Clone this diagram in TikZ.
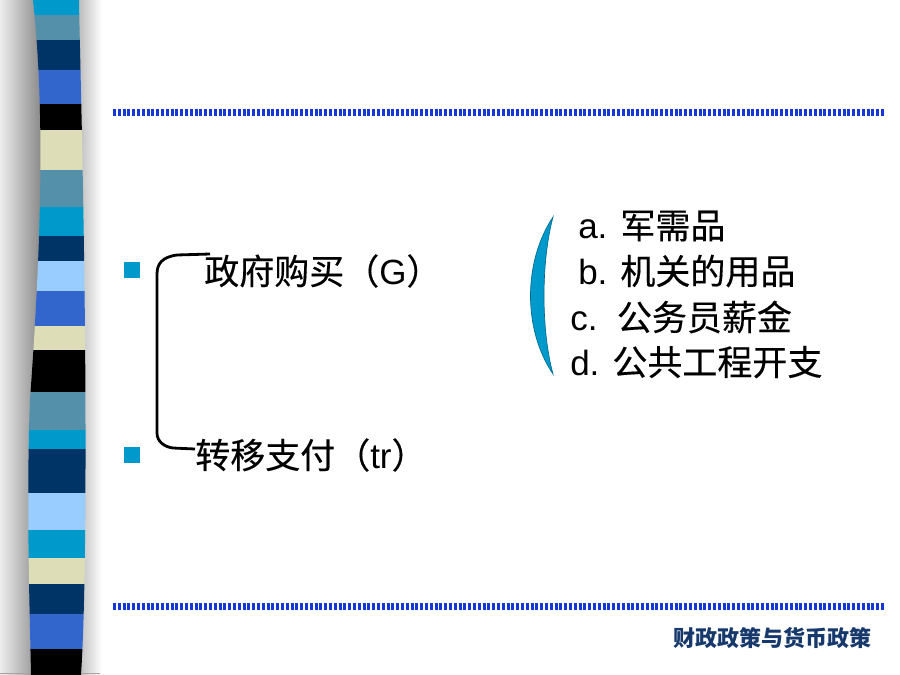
\documentclass[tikz,border=0pt]{standalone}
\usepackage{fontspec}
\setmainfont{Liberation Sans}
\newfontfamily\cjk[FakeBold=0.35]{Noto Sans CJK SC}
\newfontfamily\cjktitle{Noto Sans CJK SC}
\definecolor{barcyan}{RGB}{0,153,204}
\definecolor{barsteel}{RGB}{85,144,170}
\definecolor{barnavy}{RGB}{0,51,102}
\definecolor{barroyal}{RGB}{51,102,204}
\definecolor{barbeige}{RGB}{221,221,184}
\definecolor{barlight}{RGB}{153,204,255}
\definecolor{dotblue}{RGB}{20,55,215}
\definecolor{titleblue}{RGB}{22,56,107}
\begin{document}
\begin{tikzpicture}[x=0.75pt,y=-0.75pt,
  item/.style={anchor=west,inner sep=0pt,font=\fontsize{26.25}{30}\selectfont},
  bullet/.style={fill=barcyan,minimum size=11.5pt,inner sep=0pt},
  dotline/.style={dotblue,line width=5.25pt,dash pattern=on 2.25pt off 1.35pt}]
  \useasboundingbox (0,0) rectangle (900,675);
  % shadows beside the strip
  \shade[left color=black!7,right color=black!50] (0,0) rectangle (45,675);
  \shade[left color=black!30,right color=white] (75,0) rectangle (102,675);
  \draw[black!35,line width=0.75pt] (0,673.5) -- (100,673.5);
  % striped band
  \begin{scope}
    \clip (33,0) .. controls (46,120) and (40,260) .. (30,400)
      .. controls (26,500) and (30,620) .. (31,675) -- (81,675)
      .. controls (86,600) and (86,450) .. (85,330)
      .. controls (83,150) and (80,60) .. (79,0) -- cycle;
    \foreach \ya/\yb/\col in {0/15/barcyan, 15/40/barsteel, 40/70/barnavy,
      70/104/barroyal, 104/130/black, 130/170/barbeige, 170/207/barsteel,
      207/236/barcyan, 236/261/barnavy, 261/291/barlight, 291/326/barroyal,
      326/350/barbeige, 350/392/black, 392/430/barsteel, 430/449/barcyan,
      449/493/barnavy, 493/530/barlight, 530/558/barcyan, 558/584/barbeige,
      584/614/barnavy, 614/649/barroyal, 649/675/black}
      \fill[\col] (20,\ya) rectangle (100,\yb);
  \end{scope}
  % dotted rules
  \draw[dotline] (113,112) -- (884,112);
  \draw[dotline] (113,606) -- (884,606);
  % left items
  \node[bullet] (b1) at (132,270) {};
  \node[bullet] (b2) at (132,455) {};
  \node[item] (G) at (204,271) {\cjk 政府购买（\normalfont G\cjk ）};
  \node[item] (tr) at (195,455) {\cjk 转移支付（\normalfont tr\cjk ）};
  \coordinate (Gtop) at (210,254);
  \coordinate (trbot) at (195,449);
  \draw[line width=2.1pt] (Gtop) -- (177,255) .. controls (162,257) and (157,264) .. (157,274)
    -- (157,433) .. controls (157,442) and (165,447) .. (173,448) -- (trbot);
  % right bracket and items
  \coordinate (pt) at (553,217);
  \coordinate (pb) at (553,374);
  \filldraw[fill=barcyan,draw=barcyan!70!black,line width=0.5pt]
    (pt) .. controls (523,262) and (523,330) .. (pb)
    .. controls (541,330) and (541,262) .. (pt) -- cycle;
  \node[item] (ia) at (578,226) {a. \cjk 军需品};
  \node[item] (ib) at (578,271) {b. \cjk 机关的用品};
  \node[item] (ic) at (570,317) {c.\ \ \cjk 公务员薪金};
  \node[item] (id) at (570,362) {d. \cjk 公共工程开支};
  % footer
  \node[font=\cjktitle\bfseries\fontsize{16.5}{18}\selectfont,text=titleblue,inner sep=0pt] (title) at (772,638) {财政政策与货币政策};
\end{tikzpicture}
\end{document}
